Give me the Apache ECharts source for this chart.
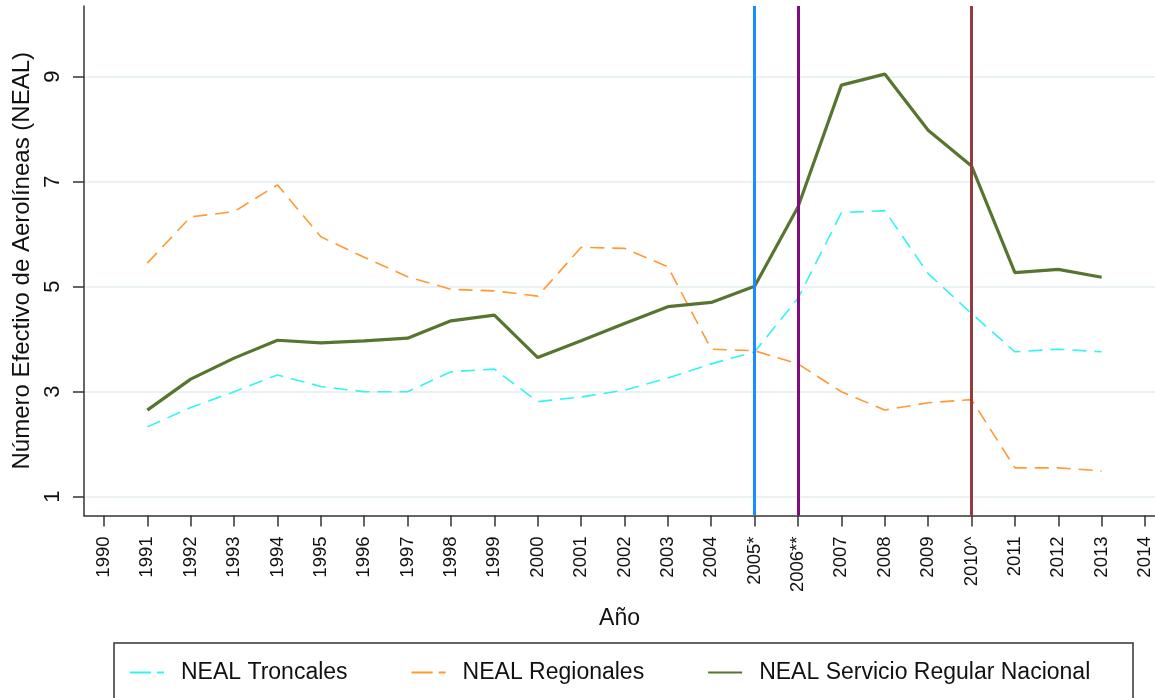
<!DOCTYPE html>
<html><head><meta charset="utf-8">
<script src="https://cdn.jsdelivr.net/npm/echarts@6/dist/echarts.min.js"></script>
<style>html,body{margin:0;padding:0;background:#fff}#c{width:1155px;height:698px}</style>
</head><body><div id="c"></div>
<script>
const xTickYears = [1990,1991,1992,1993,1994,1995,1996,1997,1998,1999,2000,2001,2002,2003,2004,2005,2006,2007,2008,2009,2010,2011,2012,2013,2014];
const xTickLabels = ['1990','1991','1992','1993','1994','1995','1996','1997','1998','1999','2000','2001','2002','2003','2004','2005*','2006**','2007','2008','2009','2010^','2011','2012','2013','2014'];
const dataYears = [1991,1992,1993,1994,1995,1996,1997,1998,1999,2000,2001,2002,2003,2004,2005,2006,2007,2008,2009,2010,2011,2012,2013];
const nealTroncales = [2.33,2.70,3.00,3.32,3.10,3.00,3.00,3.38,3.43,2.81,2.90,3.03,3.26,3.53,3.76,4.78,6.41,6.45,5.25,4.49,3.76,3.81,3.76];
const nealRegionales = [5.45,6.33,6.43,6.94,5.95,5.56,5.19,4.95,4.92,4.82,5.75,5.73,5.38,3.81,3.78,3.53,3.00,2.65,2.79,2.85,1.55,1.55,1.49];
const nealNacional = [2.65,3.24,3.64,3.98,3.93,3.97,4.02,4.35,4.46,3.65,3.97,4.30,4.62,4.70,5.01,6.52,8.84,9.05,7.98,7.30,5.27,5.33,5.18];
const yTicks = [1,3,5,7,9];
const eventYears = [2005,2006,2010];
const seriesNames = ['NEAL Troncales','NEAL Regionales','NEAL Servicio Regular Nacional'];
const yAxisTitle = 'Número Efectivo de Aerolíneas (NEAL)';
const xAxisTitle = 'Año';

const FONT = "'Liberation Sans', Arial, sans-serif";
const eventColors = ['#1a8cff','#800a80','#953b3e'];
const pair = arr => dataYears.map((y,i)=>[y,arr[i]]);
const DASH_ICON = 'path://M0,0h21v2h-21z M27,0h7v2h-7z';
const SOLID_ICON = 'path://M0,0h34v2h-34z';

const chart = echarts.init(document.getElementById('c'), null, {renderer:'canvas'});
chart.setOption({
  animation:false,
  backgroundColor:'#ffffff',
  textStyle:{fontFamily:FONT},
  grid:{left:84, right:0, top:6, bottom:698-515.5, containLabel:false},
  xAxis:{
    type:'value', min:1989.54, max:2014.23,
    name:xAxisTitle, nameLocation:'middle', nameGap:92,
    nameTextStyle:{fontSize:23, color:'#111', fontFamily:FONT},
    axisLine:{show:true, onZero:false, lineStyle:{color:'#333', width:1.5}},
    axisTick:{show:true, length:11, customValues:xTickYears, lineStyle:{color:'#333', width:1.5}},
    axisLabel:{customValues:xTickYears, rotate:90, margin:21, fontSize:18.5, color:'#111', fontFamily:FONT,
      formatter:v=>{const i=xTickYears.indexOf(Math.round(v)); return i>=0?xTickLabels[i]:'';}},
    splitLine:{show:false}
  },
  yAxis:{
    type:'value', min:0.642, max:10.347,
    name:yAxisTitle, nameLocation:'middle', nameGap:50, nameRotate:90,
    nameTextStyle:{fontSize:24, color:'#111', fontFamily:FONT},
    axisLine:{show:true, onZero:false, lineStyle:{color:'#333', width:1.5}},
    axisTick:{show:true, length:11, customValues:yTicks, lineStyle:{color:'#333', width:1.5}},
    axisLabel:{customValues:yTicks, rotate:90, margin:20, fontSize:22, color:'#111', fontFamily:FONT},
    splitLine:{show:true, lineStyle:{color:'#eaf2f3', width:2}}
  },
  legend:{
    show:true, left:125, top:656, itemWidth:34, itemHeight:3, itemGap:64,
    textStyle:{fontSize:23, color:'#111', fontFamily:FONT, padding:[0,0,0,12]},
    data:[
      {name:seriesNames[0], icon:DASH_ICON},
      {name:seriesNames[1], icon:DASH_ICON},
      {name:seriesNames[2], icon:SOLID_ICON}
    ]
  },
  graphic:[{type:'rect', shape:{x:114, y:643, width:1019, height:80}, style:{fill:'none', stroke:'#333', lineWidth:1.5}, z:-1}],
  series:[
    {name:seriesNames[0], type:'line', data:pair(nealTroncales), symbol:'none', z:3,
     lineStyle:{color:'#33f3f3', width:1.6, type:[14,8]}, itemStyle:{color:'#33f3f3'},
     markLine:{silent:true, symbol:'none', label:{show:false}, animation:false,
       data:eventYears.map((y,i)=>({xAxis:y, lineStyle:{color:eventColors[i], width:3, type:'solid'}}))}},
    {name:seriesNames[1], type:'line', data:pair(nealRegionales), symbol:'none', z:3,
     lineStyle:{color:'#ff9933', width:1.6, type:[14,8]}, itemStyle:{color:'#ff9933'}},
    {name:seriesNames[2], type:'line', data:pair(nealNacional), symbol:'none', z:4,
     lineStyle:{color:'#587530', width:3.2, type:'solid'}, itemStyle:{color:'#587530'}}
  ]
});
</script></body></html>
